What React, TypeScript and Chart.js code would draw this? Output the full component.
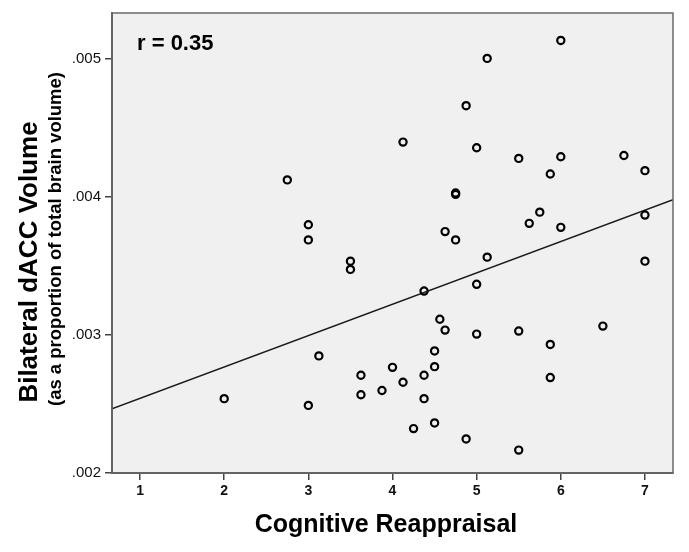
import React, { useEffect, useRef } from 'react';
import { Chart, registerables } from 'chart.js';

Chart.register(...registerables);

// Cognitive Reappraisal scores
const xValues = [
  2.0, 2.75, 3.0, 3.0, 3.0, 3.125, 3.5, 3.5, 3.625, 3.625,
  3.875, 4.0, 4.125, 4.125, 4.25, 4.375, 4.375, 4.375, 4.5, 4.5,
  4.5, 4.5625, 4.625, 4.625, 4.75, 4.75, 4.75, 4.875, 4.875, 5.0,
  5.0, 5.0, 5.125, 5.125, 5.5, 5.5, 5.5, 5.625, 5.75, 5.875,
  5.875, 5.875, 6.0, 6.0, 6.0, 6.5, 6.75, 7.0, 7.0, 7.0,
];
// Bilateral dACC volume (proportion of total brain volume)
const yValues = [
  0.002539, 0.004125, 0.0038, 0.00369, 0.00249, 0.002849, 0.003536, 0.003476, 0.002709, 0.002567,
  0.002598, 0.002766, 0.004399, 0.002658, 0.002322, 0.003319, 0.002709, 0.002539, 0.002885, 0.002771,
  0.002363, 0.003115, 0.003036, 0.00375, 0.00403, 0.00402, 0.00369, 0.004663, 0.002247, 0.004358,
  0.003368, 0.003007, 0.005006, 0.003565, 0.004281, 0.003029, 0.002166, 0.00381, 0.003891, 0.004168,
  0.002932, 0.002692, 0.005136, 0.004293, 0.003781, 0.003065, 0.004302, 0.004192, 0.00387, 0.003536,
];

const xTicks = [1, 2, 3, 4, 5, 6, 7];
const yTicks = [0.002, 0.003, 0.004, 0.005];
const xRange = [0.6667, 7.3333];
const yRange = [0.002, 0.005335];
const fitX = [0.6667, 7.3333];
const fitY = [0.002466, 0.003981];

const xTitle = 'Cognitive Reappraisal';
const yTitle = 'Bilateral dACC Volume';
const ySubTitle = '(as a proportion of total brain volume)';
const annotation = 'r = 0.35';

const FONT = '"Liberation Sans", Arial, Helvetica, sans-serif';

export default function App() {
  const canvasRef = useRef<HTMLCanvasElement | null>(null);

  useEffect(() => {
    const canvas = canvasRef.current;
    if (!canvas) return;

    const decorPlugin = {
      id: 'decor',
      beforeDraw(chart: any) {
        const { ctx, chartArea: a } = chart;
        ctx.save();
        ctx.fillStyle = '#ffffff';
        ctx.fillRect(0, 0, chart.width, chart.height);
        ctx.fillStyle = '#f0f0f0';
        ctx.fillRect(a.left, a.top, a.right - a.left, a.bottom - a.top);
        ctx.restore();
      },
      afterDraw(chart: any) {
        const { ctx, chartArea: a } = chart;
        ctx.save();
        ctx.strokeStyle = '#6a6a6a';
        ctx.lineWidth = 1.5;
        ctx.strokeRect(a.left, a.top, a.right - a.left, a.bottom - a.top);

        ctx.fillStyle = '#000';
        ctx.textAlign = 'left';
        ctx.textBaseline = 'middle';
        ctx.font = `bold 22px ${FONT}`;
        ctx.fillText(annotation, a.left + 25, a.top + 31);

        ctx.textAlign = 'center';
        ctx.font = `bold 25px ${FONT}`;
        ctx.fillText(xTitle, 386, 525);

        ctx.save();
        ctx.translate(30, 262);
        ctx.rotate(-Math.PI / 2);
        ctx.font = `bold 26px ${FONT}`;
        ctx.fillText(yTitle, 0, 0);
        ctx.restore();

        ctx.save();
        ctx.translate(56, 239);
        ctx.rotate(-Math.PI / 2);
        ctx.font = `bold 18.5px ${FONT}`;
        ctx.fillText(ySubTitle, 0, 0);
        ctx.restore();
        ctx.restore();
      },
    };

    const chart = new Chart(canvas, {
      type: 'scatter',
      data: {
        datasets: [
          {
            label: 'points',
            data: xValues.map((x, i) => ({ x, y: yValues[i] })),
            pointRadius: 3.6,
            pointBorderWidth: 2.2,
            pointBorderColor: '#000',
            pointBackgroundColor: 'rgba(0,0,0,0)',
            showLine: false,
          },
          {
            label: 'fit',
            data: fitX.map((x, i) => ({ x, y: fitY[i] })),
            showLine: true,
            borderColor: '#1a1a1a',
            borderWidth: 1.5,
            pointRadius: 0,
          },
        ],
      },
      options: {
        animation: false,
        responsive: false,
        layout: { padding: { top: 10, right: 16, left: 0, bottom: 0 } },
        plugins: { legend: { display: false }, tooltip: { enabled: false } },
        scales: {
          x: {
            type: 'linear',
            min: xRange[0],
            max: xRange[1],
            afterBuildTicks: (s: any) => {
              s.ticks = xTicks.map((v) => ({ value: v }));
            },
            afterFit: (s: any) => {
              s.height = 79;
            },
            grid: { drawOnChartArea: false, drawTicks: true, tickLength: 7, color: '#444', lineWidth: 1.5 },
            border: { display: true, color: '#555', width: 2 },
            ticks: {
              color: '#111',
              padding: 3,
              maxRotation: 0,
              font: { family: FONT, size: 14, weight: 'bold' },
              callback: (v: any) => String(v),
            },
          },
          y: {
            type: 'linear',
            min: yRange[0],
            max: yRange[1],
            afterBuildTicks: (s: any) => {
              s.ticks = yTicks.map((v) => ({ value: v }));
            },
            afterFit: (s: any) => {
              s.width = 112;
            },
            grid: { drawOnChartArea: false, drawTicks: true, tickLength: 7, color: '#444', lineWidth: 1.5 },
            border: { display: true, color: '#555', width: 2 },
            ticks: {
              color: '#111',
              padding: 4,
              font: { family: FONT, size: 15 },
              callback: (v: any) => Number(v).toFixed(3).replace(/^0/, ''),
            },
          },
        },
      },
      plugins: [decorPlugin],
    } as any);

    return () => chart.destroy();
  }, []);

  return (
    <div style={{ position: 'absolute', left: 0, top: 0, width: 689, height: 552, background: '#fff' }}>
      <canvas ref={canvasRef} width={689} height={552} />
    </div>
  );
}
